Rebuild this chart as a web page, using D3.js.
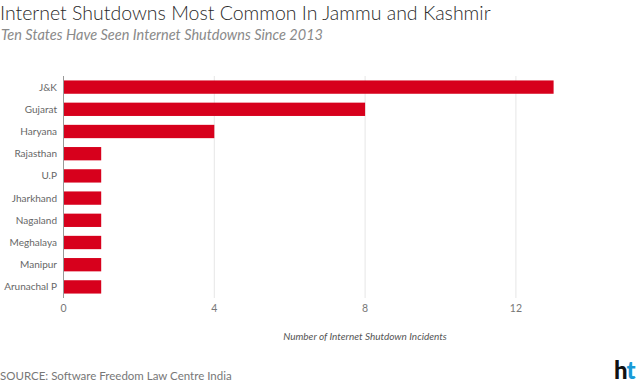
<!DOCTYPE html>
<html>
<head>
<meta charset="utf-8">
<script src="https://cdn.jsdelivr.net/npm/d3@7"></script>
<style>
    body { margin: 0; background: #fff; }
    svg { font-family: Lato, "Open Sans", sans-serif; display: block; }
</style>
</head>
<body>
<div id="chart"></div>
<script>
const states = ['J&K', 'Gujarat', 'Haryana', 'Rajasthan', 'U.P', 'Jharkhand', 'Nagaland', 'Meghalaya', 'Manipur', 'Arunachal P'];
const incidents = [13, 8, 4, 1, 1, 1, 1, 1, 1, 1];
const xTicks = [0, 4, 8, 12];

const width = 640, height = 388;

const svg = d3.select('#chart')
    .append('svg')
    .attr('width', width)
    .attr('height', height);

const x = d3.scaleLinear()
    .domain([0, 13])
    .range([63.5, 63.5 + 13 * 37.7]);

const y = d3.scaleBand()
    .domain(states)
    .range([76, 298])
    .paddingInner(0.4)
    .paddingOuter(0.2);

// titles
svg.append('text')
    .attr('x', 0).attr('y', 20)
    .attr('font-size', 19.5)
    .attr('font-weight', 300)
    .attr('fill', '#2a2a2a')
    .text('Internet Shutdowns Most Common In Jammu and Kashmir');

svg.append('text')
    .attr('x', 1).attr('y', 40)
    .attr('font-size', 14.5)
    .attr('font-style', 'italic')
    .attr('fill', '#8a8a8a')
    .text('Ten States Have Seen Internet Shutdowns Since 2013');

// gridlines
svg.append('g')
    .selectAll('line')
    .data(xTicks.filter(d => d > 0))
    .enter().append('line')
    .attr('x1', d => x(d)).attr('x2', d => x(d))
    .attr('y1', 76).attr('y2', 298)
    .attr('stroke', '#e6e6e6')
    .attr('stroke-width', 1);

// bars
svg.append('g')
    .selectAll('rect')
    .data(states)
    .enter().append('rect')
    .attr('x', x(0))
    .attr('y', d => y(d))
    .attr('width', (d, i) => x(incidents[i]) - x(0))
    .attr('height', y.bandwidth())
    .attr('fill', '#d7001c');

// zero axis line
svg.append('line')
    .attr('x1', x(0)).attr('x2', x(0))
    .attr('y1', 76).attr('y2', 298)
    .attr('stroke', '#999')
    .attr('stroke-width', 1);

// y labels
svg.append('g')
    .selectAll('text')
    .data(states)
    .enter().append('text')
    .attr('x', 57)
    .attr('y', d => y(d) + y.bandwidth() / 2)
    .attr('dy', '0.35em')
    .attr('text-anchor', 'end')
    .attr('font-size', 10)
    .attr('fill', '#666')
    .text(d => d);

// x tick labels
svg.append('g')
    .selectAll('text')
    .data(xTicks)
    .enter().append('text')
    .attr('x', d => x(d))
    .attr('y', 312)
    .attr('text-anchor', 'middle')
    .attr('font-size', 10.5)
    .attr('fill', '#777')
    .text(d => d);

svg.append('text')
    .attr('x', 365).attr('y', 340)
    .attr('text-anchor', 'middle')
    .attr('font-size', 10)
    .attr('font-style', 'italic')
    .attr('fill', '#555')
    .text('Number of Internet Shutdown Incidents');

svg.append('text')
    .attr('x', 0).attr('y', 380)
    .attr('font-size', 11.5)
    .attr('fill', '#777')
    .text('SOURCE: Software Freedom Law Centre India');

const logo = svg.append('text')
    .attr('x', 614).attr('y', 379)
    .attr('font-size', 24)
    .attr('font-weight', 900)
    .attr('letter-spacing', -1);
logo.append('tspan').attr('fill', '#111').text('h');
logo.append('tspan').attr('fill', '#1a9bd7').text('t');
</script>
</body>
</html>
